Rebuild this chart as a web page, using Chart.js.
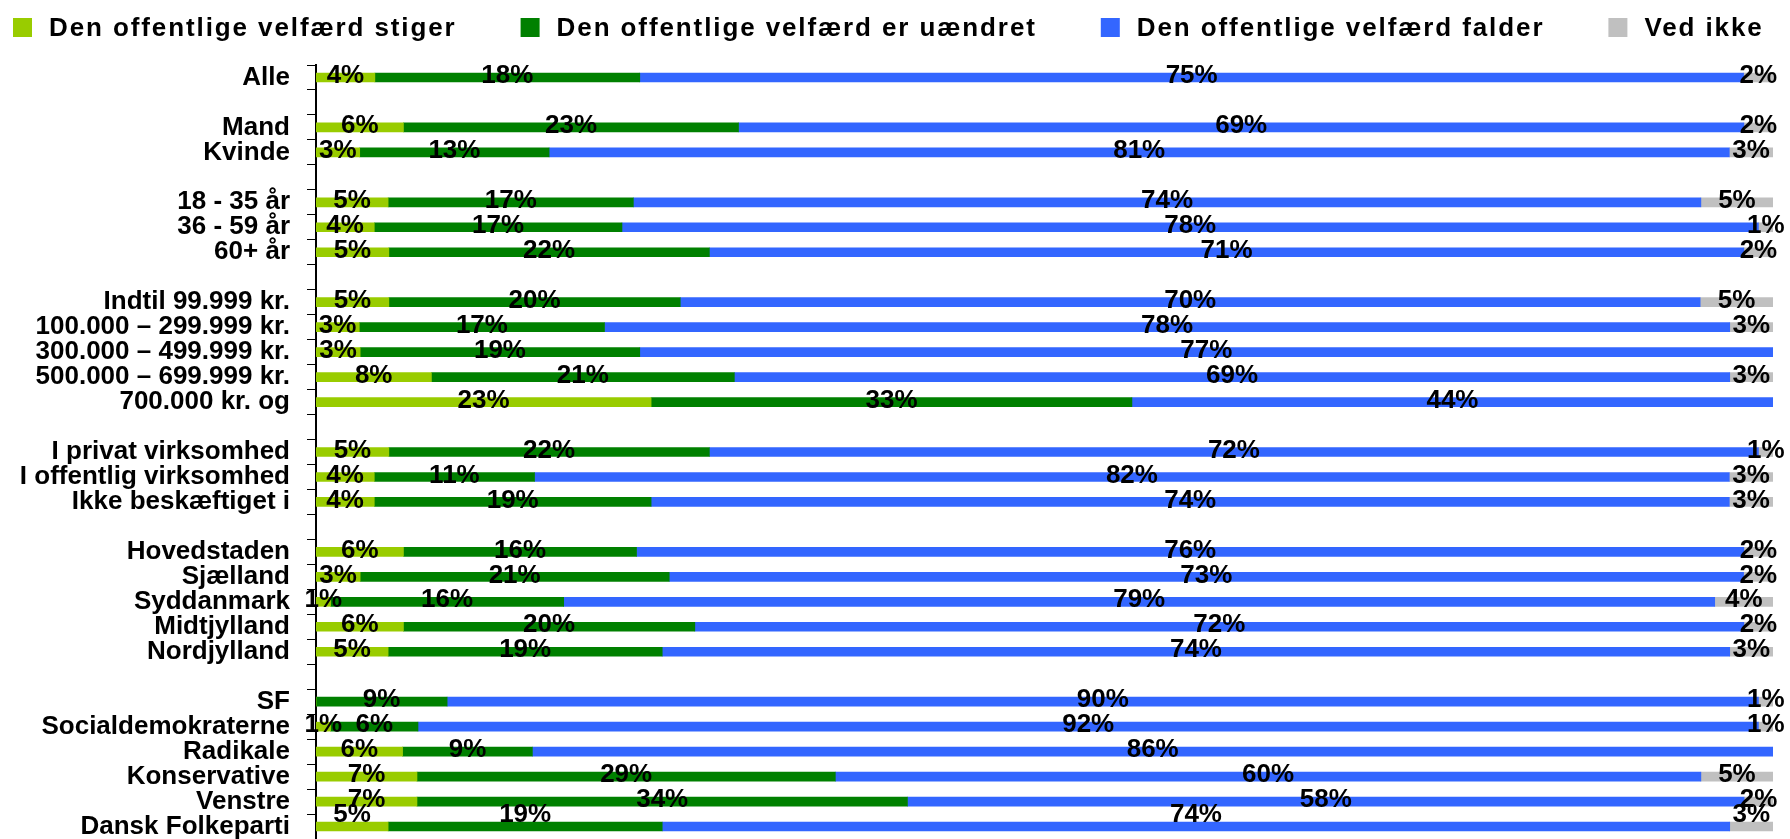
<!DOCTYPE html>
<html>
<head>
<meta charset="utf-8">
<script src="https://cdn.jsdelivr.net/npm/chart.js@4.4.0/dist/chart.umd.min.js"></script>
<style>
html,body{margin:0;padding:0;background:#ffffff;overflow:hidden}
#wrap{width:1790px;height:839px;position:relative}
</style>
</head>
<body>
<div id="wrap"><canvas id="c" width="1790" height="839"></canvas></div>
<script>
// ---- data ----
const categories = [
  'Alle', '',
  'Mand', 'Kvinde', '',
  '18 - 35 år', '36 - 59 år', '60+ år', '',
  'Indtil 99.999 kr.', '100.000 – 299.999 kr.', '300.000 – 499.999 kr.', '500.000 – 699.999 kr.', '700.000 kr. og', '',
  'I privat virksomhed', 'I offentlig virksomhed', 'Ikke beskæftiget i', '',
  'Hovedstaden', 'Sjælland', 'Syddanmark', 'Midtjylland', 'Nordjylland', '',
  'SF', 'Socialdemokraterne', 'Radikale', 'Konservative', 'Venstre', 'Dansk Folkeparti'
];
const seriesNames = [
  'Den offentlige velfærd stiger',
  'Den offentlige velfærd er uændret',
  'Den offentlige velfærd falder',
  'Ved ikke'
];
const stiger   = [4, null, 6, 3, null, 5, 4, 5, null, 5, 3, 3, 8, 23, null, 5, 4, 4, null, 6, 3, 1, 6, 5, null, 0, 1, 6, 7, 7, 5];
const uaendret = [18, null, 23, 13, null, 17, 17, 22, null, 20, 17, 19, 21, 33, null, 22, 11, 19, null, 16, 21, 16, 20, 19, null, 9, 6, 9, 29, 34, 19];
const falder   = [75, null, 69, 81, null, 74, 78, 71, null, 70, 78, 77, 69, 44, null, 72, 82, 74, null, 76, 73, 79, 72, 74, null, 90, 92, 86, 60, 58, 74];
const vedIkke  = [2, null, 2, 3, null, 5, 1, 2, null, 5, 3, 0, 3, 0, null, 1, 3, 3, null, 2, 2, 4, 2, 3, null, 1, 1, 0, 5, 2, 3];

// ---- styles ----
const seriesColors = ['#99CC00', '#008000', '#3366FF', '#C0C0C0'];
const FONT = '"Liberation Sans", Arial, Helvetica, sans-serif';

// each bar is drawn as a 100% stack (shares of the row total)
const rawSeries = [stiger, uaendret, falder, vedIkke];
const rowTotals = categories.map((_, j) => rawSeries.reduce((s, arr) => s + (arr[j] || 0), 0));
const datasets = rawSeries.map((arr, i) => ({
  label: seriesNames[i],
  data: arr.map((v, j) => (v === null || rowTotals[j] === 0) ? null : v / rowTotals[j] * 100),
  raw: arr,
  backgroundColor: seriesColors[i],
  borderWidth: 0,
  barThickness: 9
}));

const valueLabels = {
  id: 'valueLabels',
  afterDatasetsDraw(chart) {
    const ctx = chart.ctx;
    const area = chart.chartArea;
    ctx.save();
    ctx.font = 'bold 26px ' + FONT;
    ctx.fillStyle = '#000';
    ctx.textAlign = 'center';
    ctx.textBaseline = 'middle';
    chart.data.datasets.forEach((ds, i) => {
      const meta = chart.getDatasetMeta(i);
      meta.data.forEach((el, j) => {
        const v = ds.raw[j];
        if (v === null || v === 0) return;
        const p = el.getProps(['x', 'y', 'base'], true);
        const x = (p.x + p.base) / 2;
        const y = Math.min(p.y - 1.5, area.bottom - 24);
        ctx.fillText(v + '%', x, y);
      });
    });
    ctx.restore();
  }
};

const topLegend = {
  id: 'topLegend',
  afterDraw(chart) {
    const ctx = chart.ctx;
    const ls = 1.9;
    ctx.save();
    ctx.font = 'bold 26px ' + FONT;
    ctx.textBaseline = 'alphabetic';
    ctx.textAlign = 'left';
    let x = 13;
    chart.data.datasets.forEach((ds) => {
      ctx.fillStyle = ds.backgroundColor;
      ctx.fillRect(x, 18, 19, 19);
      const tx = x + 19 + 17;
      ctx.letterSpacing = '0px';
      const w = ctx.measureText(ds.label).width + ds.label.length * ls;
      ctx.letterSpacing = ls + 'px';
      ctx.fillStyle = '#000';
      ctx.fillText(ds.label, tx, 36);
      x = tx + w + 64;
    });
    ctx.letterSpacing = '0px';
    ctx.restore();
  }
};

new Chart(document.getElementById('c'), {
  type: 'bar',
  data: { labels: categories, datasets: datasets },
  options: {
    indexAxis: 'y',
    responsive: false,
    animation: false,
    devicePixelRatio: 1,
    layout: { padding: { top: 65, left: 0, right: 17, bottom: 0 } },
    plugins: {
      legend: { display: false },
      tooltip: { enabled: false }
    },
    scales: {
      x: { stacked: true, display: false, min: 0, max: 100 },
      y: {
        stacked: true,
        grid: { display: true, drawOnChartArea: false, drawTicks: true, tickLength: 9, color: '#000', lineWidth: 1, offset: true },
        border: { display: true, color: '#000', width: 2 },
        ticks: { autoSkip: false, color: '#000', padding: 17, font: { family: FONT, size: 26, weight: 'bold' } },
        afterFit(scale) {
          scale.width = 316;
          scale.paddingTop = 0;
          scale.paddingBottom = 0;
        }
      }
    }
  },
  plugins: [valueLabels, topLegend]
});
</script>
</body>
</html>
